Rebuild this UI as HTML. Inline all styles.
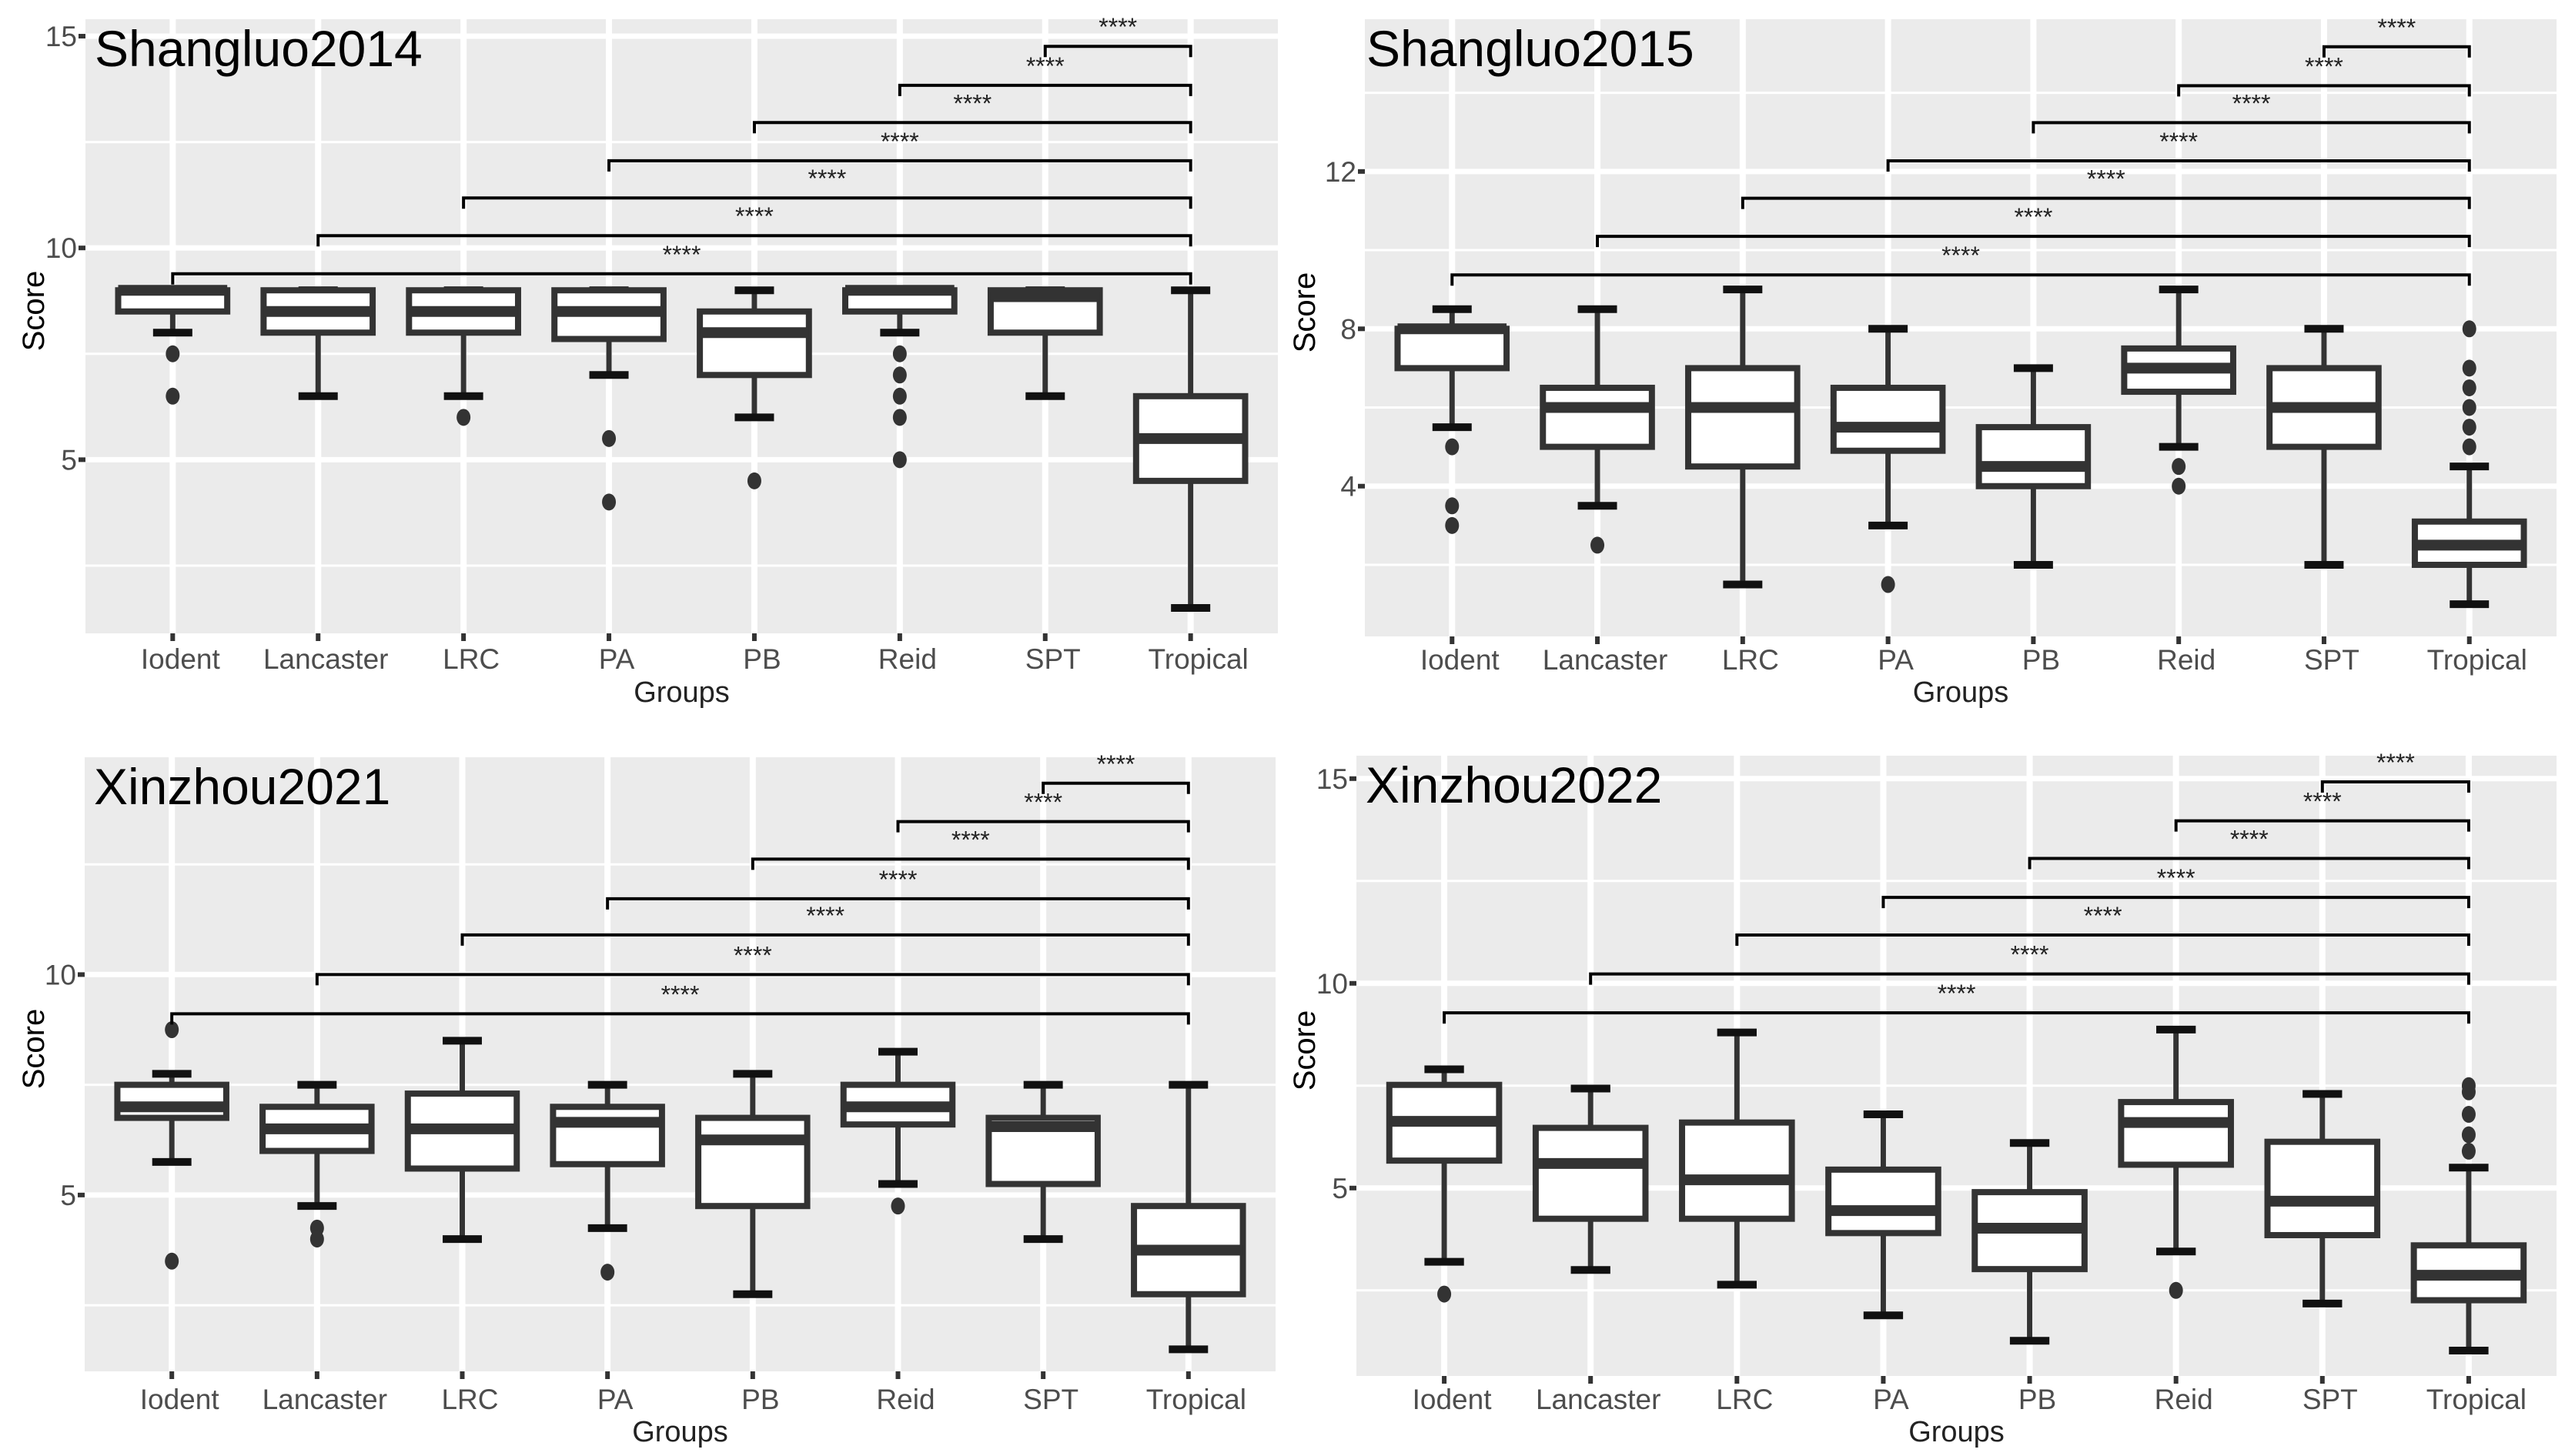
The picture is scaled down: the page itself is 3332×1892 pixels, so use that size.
<!DOCTYPE html>
<html><head><meta charset="utf-8"><style>
html,body{margin:0;padding:0;background:#fff;}
svg{display:block;}
text{font-family:"Liberation Sans",sans-serif;}
</style></head><body>
<svg id="chart" width="3332" height="1892" xmlns="http://www.w3.org/2000/svg"></svg>
<script>
const categories = ["Iodent","Lancaster","LRC","PA","PB","Reid","SPT","Tropical"];
const titles = ["Shangluo2014","Shangluo2015","Xinzhou2021","Xinzhou2022"];
const yTicks = [[5,10,15],[4,8,12],[5,10],[5,10,15]];
const yMinor = [[2.5,7.5,12.5],[2,6,10,14],[2.5,7.5,12.5],[2.5,7.5,12.5]];
const yDomains = [[0.9,15.4],[0.18,15.87],[1.0,14.93],[0.41,15.56]];

// Shangluo2014
const s14Hi  = [9.0,9.0,9.0,9.0,9.0,9.0,9.0,9.0];
const s14Q3  = [9.0,9.0,9.0,9.0,8.5,9.0,9.0,6.5];
const s14Med = [9.0,8.5,8.5,8.5,8.0,9.0,8.85,5.5];
const s14Q1  = [8.5,8.0,8.0,7.85,7.0,8.5,8.0,4.5];
const s14Lo  = [8.0,6.5,6.5,7.0,6.0,8.0,6.5,1.5];
const s14Out = [[7.5,6.5],[],[6.0],[5.5,4.0],[4.5],[7.5,7.0,6.5,6.0,5.0],[],[]];
const s14Br  = [9.39,10.29,11.18,12.06,12.96,13.84,14.76];
// Shangluo2015
const s15Hi  = [8.5,8.5,9.0,8.0,7.0,9.0,8.0,4.5];
const s15Q3  = [8.0,6.5,7.0,6.5,5.5,7.5,7.0,3.1];
const s15Med = [8.0,6.0,6.0,5.5,4.5,7.0,6.0,2.5];
const s15Q1  = [7.0,5.0,4.5,4.9,4.0,6.4,5.0,2.0];
const s15Lo  = [5.5,3.5,1.5,3.0,2.0,5.0,2.0,1.0];
const s15Out = [[5.0,3.5,3.0],[2.5],[],[1.5],[],[4.5,4.0],[],[8.0,7.0,6.5,6.0,5.5,5.0]];
const s15Br  = [9.37,10.35,11.32,12.27,13.24,14.18,15.17];
// Xinzhou2021
const x21Hi  = [7.75,7.5,8.5,7.5,7.75,8.25,7.5,7.5];
const x21Q3  = [7.5,7.0,7.3,7.0,6.75,7.5,6.75,4.75];
const x21Med = [7.0,6.5,6.5,6.65,6.25,7.0,6.55,3.75];
const x21Q1  = [6.75,6.0,5.6,5.7,4.75,6.6,5.25,2.75];
const x21Lo  = [5.75,4.75,4.0,4.25,2.75,5.25,4.0,1.5];
const x21Out = [[8.75,3.5],[4.25,4.0],[],[3.25],[],[4.75],[],[]];
const x21Br  = [9.11,10.0,10.9,11.72,12.62,13.47,14.34];
// Xinzhou2022
const x22Hi  = [7.9,7.43,8.8,6.8,6.1,8.87,7.3,5.5];
const x22Q3  = [7.52,6.47,6.6,5.45,4.9,7.1,6.13,3.6];
const x22Med = [6.63,5.6,5.2,4.45,4.02,6.6,4.68,2.87];
const x22Q1  = [5.67,4.25,4.25,3.9,3.02,5.57,3.85,2.26];
const x22Lo  = [3.2,3.0,2.64,1.89,1.27,3.45,2.18,1.03];
const x22Out = [[2.41],[],[],[],[],[2.5],[],[7.5,7.35,6.8,6.3,5.9]];
const x22Br  = [9.28,10.23,11.18,12.1,13.05,13.97,14.92];

const his=[s14Hi,s15Hi,x21Hi,x22Hi], q3s=[s14Q3,s15Q3,x21Q3,x22Q3], meds=[s14Med,s15Med,x21Med,x22Med],
      q1s=[s14Q1,s15Q1,x21Q1,x22Q1], los=[s14Lo,s15Lo,x21Lo,x22Lo], outs=[s14Out,s15Out,x21Out,x22Out],
      brs=[s14Br,s15Br,x21Br,x22Br];

const layouts=[{l:111,r:1660,t:25,b:823,xl:869,gl:912,sx:43,tx:12},
               {l:1773,r:3321,t:25,b:827,xl:870,gl:912,sx:1694,tx:2},
               {l:110,r:1657,t:984,b:1782,xl:1831,gl:1873,sx:43,tx:12},
               {l:1762,r:3321,t:982,b:1788,xl:1831,gl:1873,sx:1694,tx:12}];

const NS="http://www.w3.org/2000/svg";
const svg=document.getElementById('chart');
function mk(tag,attrs,parent){const e=document.createElementNS(NS,tag);for(const k in attrs)e.setAttribute(k,attrs[k]);(parent||svg).appendChild(e);return e;}

for(let p=0;p<4;p++){
  const L=layouts[p], dom=yDomains[p];
  const g=mk('g',{});
  
  
  const y=v=>L.b-(v-dom[0])/(dom[1]-dom[0])*(L.b-L.t);
  const step=(L.r-L.l)/8.2;
  const x=i=>L.l+(i+0.6)*step;
  const bg=mk('rect',{x:L.l,y:L.t,width:L.r-L.l,height:L.b-L.t,fill:'#ebebeb'},g);
  
  
  yMinor[p].forEach(v=>{if(v>dom[0]&&v<dom[1]){const e=mk('line',{x1:L.l,x2:L.r,y1:y(v),y2:y(v),stroke:'#fff','stroke-width':3},g);
    }});
  yTicks[p].forEach(v=>{const e=mk('line',{x1:L.l,x2:L.r,y1:y(v),y2:y(v),stroke:'#fff','stroke-width':7},g);
    
    const tk=mk('line',{x1:L.l-9,x2:L.l,y1:y(v),y2:y(v),stroke:'#333','stroke-width':6},g);
    
    const t=mk('text',{x:L.l-11,y:y(v)+13,'text-anchor':'end','font-size':37,fill:'#4d4d4d'},g);t.textContent=v;
    });
  categories.forEach((c,i)=>{const e=mk('line',{x1:x(i),x2:x(i),y1:L.t,y2:L.b,stroke:'#fff','stroke-width':8},g);
    
    const tk=mk('line',{x1:x(i),x2:x(i),y1:L.b,y2:L.b+10,stroke:'#333','stroke-width':6},g);
    
    const t=mk('text',{x:x(i)+10,y:L.xl,'text-anchor':'middle','font-size':37,fill:'#4d4d4d'},g);t.textContent=c;
    });
  const bw=step*0.75, cw=step*0.27;
  categories.forEach((c,i)=>{
    const bx=mk('g',{},g);
    
    
    const cx=x(i);
    mk('line',{x1:cx,x2:cx,y1:y(his[p][i]),y2:y(q3s[p][i]),stroke:'#333','stroke-width':7},bx);
    mk('line',{x1:cx,x2:cx,y1:y(q1s[p][i]),y2:y(los[p][i]),stroke:'#333','stroke-width':7},bx);
    mk('line',{x1:cx-cw/2,x2:cx+cw/2,y1:y(his[p][i]),y2:y(his[p][i]),stroke:'#111','stroke-width':10},bx);
    mk('line',{x1:cx-cw/2,x2:cx+cw/2,y1:y(los[p][i]),y2:y(los[p][i]),stroke:'#111','stroke-width':10},bx);
    mk('rect',{x:cx-bw/2,y:y(q3s[p][i]),width:bw,height:Math.max(1,y(q1s[p][i])-y(q3s[p][i])),fill:'#fff',stroke:'#333','stroke-width':8},bx);
    mk('line',{x1:cx-bw/2,x2:cx+bw/2,y1:y(meds[p][i]),y2:y(meds[p][i]),stroke:'#333','stroke-width':14},bx);
    outs[p][i].forEach(o=>{const d=mk('ellipse',{cx:cx,cy:y(o),rx:9,ry:11,fill:'#333'},bx);
      });
  });
  const tx=x(7);
  brs[p].forEach((v,i)=>{
    const bg2=mk('g',{},g);
    
    
    const yy=y(v), drop=14;
    mk('polyline',{points:`${x(i)},${yy+drop} ${x(i)},${yy} ${tx},${yy} ${tx},${yy+drop}`,fill:'none',stroke:'#000','stroke-width':4},bg2);
    const t=mk('text',{x:(x(i)+tx)/2,y:yy-14,'text-anchor':'middle','font-size':32,fill:'#222'},bg2);t.textContent='****';
  });
  const ti=mk('text',{x:L.l+L.tx,y:L.t+61,'font-size':66,fill:'#000'},g);ti.textContent=titles[p];
  
  const sc=mk('text',{x:L.sx,y:(L.t+L.b)/2-20,'text-anchor':'middle','font-size':40,fill:'#000',transform:`rotate(-90 ${L.sx} ${(L.t+L.b)/2-20})`,dy:14},g);sc.textContent='Score';
  
  const gr=mk('text',{x:(L.l+L.r)/2,y:L.gl,'text-anchor':'middle','font-size':38,fill:'#222'},g);gr.textContent='Groups';
  
}
</script>
</body></html>
